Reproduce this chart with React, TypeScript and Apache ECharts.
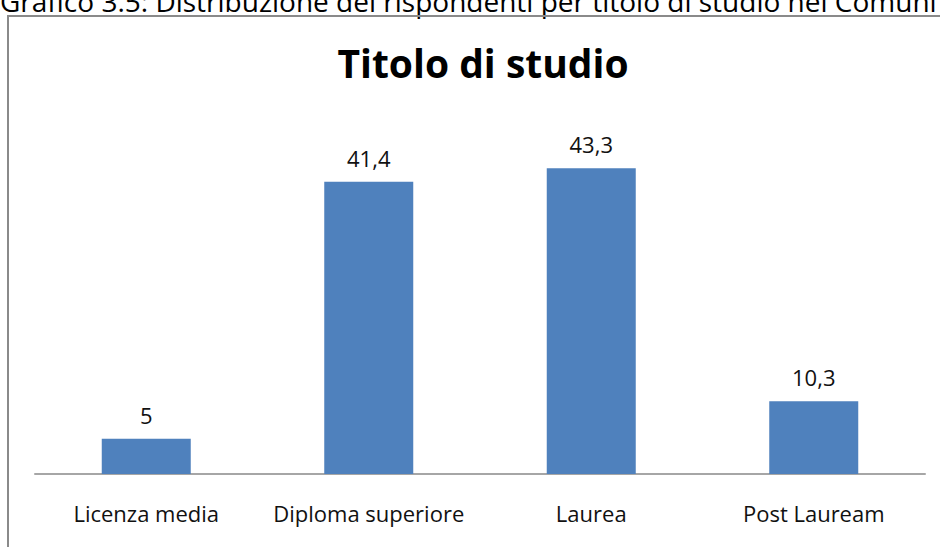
import React, { useEffect, useRef } from "react";
import * as echarts from "echarts";

const categories = ["Licenza media", "Diploma superiore", "Laurea", "Post Lauream"];
const values = [5, 41.4, 43.3, 10.3];
const chartTitle = "Titolo di studio";
const caption = "Grafico 3.5: Distribuzione dei rispondenti per titolo di studio nel Comuni";

const FONT = "'Open Sans', sans-serif";

export default function App() {
  const ref = useRef<HTMLDivElement>(null);
  useEffect(() => {
    if (!ref.current) return;
    const chart = echarts.init(ref.current, null, { renderer: "svg" });
    chart.setOption({
      animation: false,
      backgroundColor: "#ffffff",
      title: {
        text: chartTitle,
        left: 478,
        top: 38,
        textAlign: "center",
        textStyle: { fontFamily: FONT, fontWeight: "bold", fontSize: 39, color: "#000" },
      },
      graphic: [
        {
          type: "text",
          left: 0,
          top: -13,
          style: { text: caption, fontFamily: FONT, fontSize: 28, fill: "#000" },
        },
        {
          type: "line",
          shape: { x1: 7, y1: 16, x2: 940, y2: 16 },
          style: { stroke: "#8a8a8a", lineWidth: 2 },
        },
        {
          type: "line",
          shape: { x1: 8, y1: 16, x2: 8, y2: 547 },
          style: { stroke: "#8a8a8a", lineWidth: 2 },
        },
      ],
      grid: { left: 35, right: 15, top: 121, bottom: 73, containLabel: false },
      xAxis: {
        type: "category",
        data: categories,
        axisTick: { show: false },
        axisLine: { lineStyle: { color: "#a6a6a6", width: 2 } },
        axisLabel: { interval: 0, fontFamily: FONT, fontSize: 22, color: "#111", margin: 28 },
      },
      yAxis: {
        type: "value",
        min: 0,
        max: 50,
        show: false,
        splitLine: { show: false },
      },
      series: [
        {
          type: "bar",
          data: values,
          barWidth: "40%",
          itemStyle: { color: "#4f81bd" },
          label: {
            show: true,
            position: "top",
            distance: 13,
            fontFamily: FONT,
            fontSize: 22,
            color: "#111",
            formatter: (p: any) => String(p.value).replace(".", ","),
          },
        },
      ],
    });
    return () => chart.dispose();
  }, []);
  return (
    <div
      ref={ref}
      style={{ position: "absolute", left: 0, top: 0, width: 940, height: 547 }}
    />
  );
}
